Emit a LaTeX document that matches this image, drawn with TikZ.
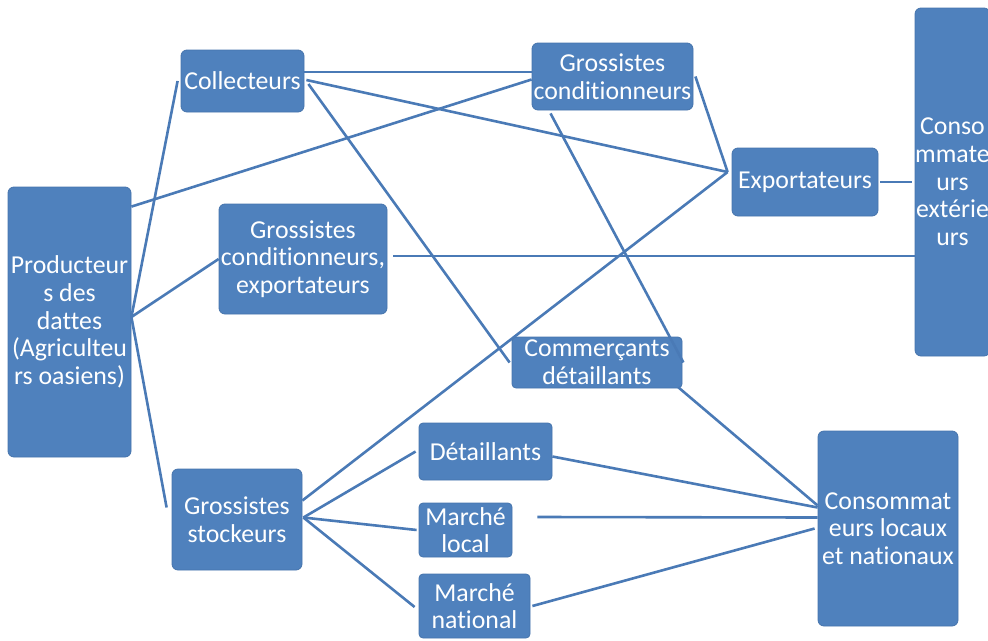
\documentclass[tikz,border=0pt]{standalone}
\usepackage{fontspec}
\setmainfont{Carlito}[Ligatures=NoCommon]
\definecolor{boxfill}{RGB}{79,129,189}
\definecolor{boxline}{RGB}{70,116,172}
\definecolor{link}{RGB}{74,122,182}
\begin{document}
\begin{tikzpicture}[x=1pt,y=-1pt,
  actor/.style={draw=boxline,line width=0.8pt,fill=boxfill,rounded corners=6pt,
    text=white,inner sep=0pt,align=center,
    font=\fontsize{25.8}{27.7}\selectfont},
  link/.style={draw=link,line width=2.6pt}]
\useasboundingbox (0,0) rectangle (988,640);

% boxes
\node[actor,minimum width=123,minimum height=270] (prod) at (69.5,322)
  {Producteur\\s des\\dattes\\(Agriculteu\\rs oasiens)};
\node[actor,minimum width=123,minimum height=62] (coll) at (242.5,81) {Collecteurs};
\node[actor,minimum width=168,minimum height=110] (gce) at (303,259)
  {Grossistes\\conditionneurs,\\exportateurs};
\node[actor,minimum width=161,minimum height=67] (gc) at (612.5,76.5)
  {Grossistes\\conditionneurs};
\node[actor,minimum width=146,minimum height=68] (exp) at (805,182) {Exportateurs};
\node[actor,minimum width=75,minimum height=348] (cext) at (952.5,182)
  {Conso\\mmate\\urs\\extérie\\urs};
\node[actor,minimum width=170,minimum height=51,rounded corners=4pt] (comm) at (597,362.5)
  {Commerçants\\détaillants};
\node[actor,minimum width=133,minimum height=57,rounded corners=4pt] (det) at (485.5,451.5) {Détaillants};
\node[actor,minimum width=93,minimum height=54,rounded corners=4pt] (mloc) at (465.5,530) {Marché\\local};
\node[actor,minimum width=111,minimum height=64,rounded corners=4pt] (mnat) at (474.5,606) {Marché\\national};
\node[actor,minimum width=130,minimum height=101] (gs) at (237,519.5) {Grossistes\\stockeurs};
\node[actor,minimum width=140,minimum height=195] (cln) at (888,528.5)
  {Consommat\\eurs locaux\\et nationaux};

% links out of the producers
\draw[link] ([yshift=5]prod.east) -- ([xshift=-3]coll.west);
\draw[link] ([yshift=5]prod.east) -- (gce.west);
\draw[link] ([yshift=5]prod.east) -- ([xshift=-5,yshift=12]gs.west);
\draw[link] ([yshift=-20]prod.north east) -- ([yshift=-3]gc.west);

% links out of the collectors
\draw[link] ([yshift=9]coll.east) -- ([yshift=4.5]gc.west);
\draw[link] ([xshift=2,yshift=1]coll.east) -- ([xshift=-4,yshift=10]exp.west);
\draw[link] ([xshift=4,yshift=-3]coll.east) -- ([xshift=-2]comm.west);

% packing wholesalers
\draw[link] ([xshift=2]gc.east) -- ([xshift=-4,yshift=10]exp.west);
\draw[link] ([xshift=-62,yshift=-3]gc.south) -- ([xshift=1]comm.east);

% exporters and foreign consumers
\draw[link] ([xshift=2]exp.east) -- ([xshift=-3]cext.west);
\draw[link] ([xshift=6,yshift=3]gce.east) -- ([yshift=-74]cext.west);

% storing wholesalers
\draw[link] ([yshift=19]gs.east) -- ([xshift=-4,yshift=10]exp.west);
\draw[link] ([xshift=1,yshift=2]gs.east) -- ([xshift=-3]det.west);
\draw[link] ([xshift=1,yshift=2]gs.east) -- ([xshift=-2]mloc.west);
\draw[link] ([xshift=1,yshift=2]gs.east) -- ([xshift=-4,yshift=-1]mnat.west);

% local and national consumers
\draw[link] ([yshift=-5]det.east) -- ([yshift=21]cln.west);
\draw[link] ([xshift=25,yshift=13]mloc.east) -- ([yshift=11]cln.west);
\draw[link] ([xshift=2]mnat.east) -- ([xshift=-3]cln.west);
\draw[link] ([xshift=-4,yshift=1]comm.south east) -- ([yshift=23]cln.west);
\end{tikzpicture}
\end{document}
